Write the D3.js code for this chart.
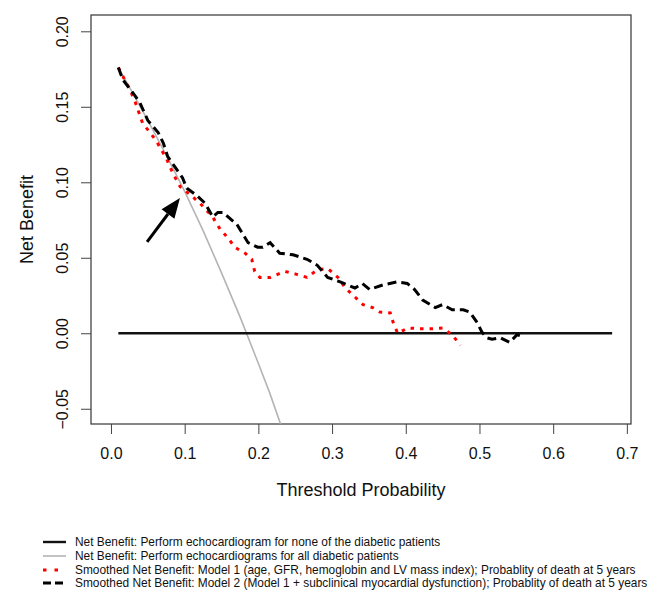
<!DOCTYPE html>
<html>
<head>
<meta charset="utf-8">
<script src="https://cdn.jsdelivr.net/npm/d3@7"></script>
<style>
  body { margin: 0; background: #fff; }
  svg text { font-family: "Liberation Sans", Arial, sans-serif; fill: #111; }
</style>
</head>
<body>
<div id="chart"></div>
<script>
// data
var xTicks = [0.0, 0.1, 0.2, 0.3, 0.4, 0.5, 0.6, 0.7];
var yTicks = [-0.05, 0.00, 0.05, 0.10, 0.15, 0.20];

var noneX = [0.01, 0.68];
var noneNB = [0, 0];

var allX = [0.01, 0.025, 0.05, 0.075, 0.10, 0.125, 0.15, 0.175, 0.20, 0.215, 0.23];
var allNB = [0.176, 0.163, 0.141, 0.118, 0.094, 0.068, 0.040, 0.011, -0.020, -0.039, -0.060];

var model1X = [0.01, 0.026, 0.033, 0.043, 0.053, 0.062, 0.076, 0.084, 0.094, 0.107, 0.121, 0.138,
  0.148, 0.159, 0.168, 0.182, 0.191, 0.195, 0.202, 0.216, 0.236, 0.252, 0.266, 0.280, 0.294,
  0.308, 0.318, 0.331, 0.342, 0.355, 0.365, 0.379, 0.383, 0.389, 0.403, 0.419, 0.436, 0.450,
  0.463, 0.474];
var model1NB = [0.176, 0.161, 0.153, 0.139, 0.133, 0.127, 0.115, 0.106, 0.097, 0.092, 0.086, 0.077,
  0.069, 0.063, 0.057, 0.053, 0.049, 0.041, 0.037, 0.037, 0.041, 0.039, 0.037, 0.042, 0.043,
  0.037, 0.030, 0.024, 0.019, 0.017, 0.014, 0.0135, 0.007, 0.000, 0.0035, 0.003, 0.003, 0.0035,
  -0.001, -0.008];

var model2X = [0.01, 0.016, 0.030, 0.039, 0.050, 0.064, 0.071, 0.077, 0.087, 0.097, 0.103, 0.117,
  0.128, 0.138, 0.145, 0.152, 0.171, 0.186, 0.199, 0.206, 0.216, 0.229, 0.247, 0.266, 0.280,
  0.294, 0.311, 0.331, 0.341, 0.351, 0.369, 0.388, 0.402, 0.412, 0.423, 0.440, 0.450, 0.463,
  0.478, 0.487, 0.497, 0.503, 0.510, 0.517, 0.528, 0.541, 0.551, 0.558];
var model2NB = [0.176, 0.168, 0.159, 0.153, 0.141, 0.133, 0.126, 0.117, 0.110, 0.103, 0.096, 0.091,
  0.086, 0.077, 0.080, 0.080, 0.072, 0.060, 0.057, 0.057, 0.060, 0.053, 0.052, 0.049, 0.045,
  0.037, 0.034, 0.030, 0.033, 0.029, 0.032, 0.034, 0.033, 0.029, 0.022, 0.017, 0.019, 0.0155,
  0.0155, 0.014, 0.007, 0.001, -0.003, -0.004, -0.003, -0.006, -0.001, -0.002];

// arrow annotation: tail -> tip
var arrowX = [0.049, 0.0936];
var arrowNB = [0.0605, 0.0896];

var legendLabels = [
  "Net Benefit: Perform echocardiogram for none of the diabetic patients",
  "Net Benefit: Perform echocardiograms for all diabetic patients",
  "Smoothed Net Benefit: Model 1 (age, GFR, hemoglobin and LV mass index); Probablity of death at 5 years",
  "Smoothed Net Benefit: Model 2 (Model 1 + subclinical myocardial dysfunction); Probablity of death at 5 years"
];

var widthSVG = 657;
var heightSVG = 592;
var box = { left: 91, right: 631, top: 15, bottom: 424 };

var svg = d3.select("#chart")
  .append("svg")
  .attr("width", widthSVG)
  .attr("height", heightSVG);

var xScale = d3.scaleLinear()
  .domain([-0.0271, 0.7056])
  .range([box.left, box.right]);

var yScale = d3.scaleLinear()
  .domain([-0.0601, 0.2108])
  .range([box.bottom, box.top]);

svg.append("defs").append("clipPath")
  .attr("id", "plotClip")
  .append("rect")
  .attr("x", box.left)
  .attr("y", box.top)
  .attr("width", box.right - box.left)
  .attr("height", box.bottom - box.top);

// axes
var xAxis = svg.append("g")
  .attr("transform", `translate(0, ${box.bottom})`)
  .call(d3.axisBottom(xScale).tickValues(xTicks).tickFormat(d3.format(".1f")).tickSize(10).tickSizeOuter(0));
xAxis.select(".domain").remove();
xAxis.selectAll("line").attr("stroke", "#444");
xAxis.selectAll("text").attr("font-size", 16).attr("dy", "1.4em");

// y axis: R style, labels rotated and centred on the ticks
var yAxis = svg.append("g")
  .attr("transform", `translate(${box.left}, 0)`)
  .call(d3.axisLeft(yScale).tickValues(yTicks).tickFormat(d3.format(".2f")).tickSize(10).tickSizeOuter(0));
yAxis.select(".domain").remove();
yAxis.selectAll("line").attr("stroke", "#444");
yAxis.selectAll(".tick text")
  .attr("font-size", 16)
  .attr("text-anchor", "middle")
  .attr("x", 0)
  .attr("y", 0)
  .attr("dy", "0.35em")
  .attr("transform", "translate(-29, 0) rotate(-90)");

// plot frame
svg.append("rect")
  .attr("x", box.left)
  .attr("y", box.top)
  .attr("width", box.right - box.left)
  .attr("height", box.bottom - box.top)
  .attr("fill", "none")
  .attr("stroke", "#444")
  .attr("stroke-width", 1.3);

var line = d3.line()
  .x(d => xScale(d[0]))
  .y(d => yScale(d[1]));

var plot = svg.append("g").attr("clip-path", "url(#plotClip)");

plot.append("path")
  .datum(d3.zip(allX, allNB))
  .attr("d", line)
  .attr("fill", "none")
  .attr("stroke", "#b4b4b4")
  .attr("stroke-width", 1.6);

plot.append("path")
  .datum(d3.zip(noneX, noneNB))
  .attr("d", line)
  .attr("fill", "none")
  .attr("stroke", "#111")
  .attr("stroke-width", 2.4);

plot.append("path")
  .datum(d3.zip(model1X, model1NB))
  .attr("d", line)
  .attr("fill", "none")
  .attr("stroke", "#ff0000")
  .attr("stroke-width", 3)
  .attr("stroke-dasharray", "3.5,6");

plot.append("path")
  .datum(d3.zip(model2X, model2NB))
  .attr("d", line)
  .attr("fill", "none")
  .attr("stroke", "#000")
  .attr("stroke-width", 3)
  .attr("stroke-dasharray", "9,5");

// arrow
var ax0 = xScale(arrowX[0]), ay0 = yScale(arrowNB[0]);
var ax1 = xScale(arrowX[1]), ay1 = yScale(arrowNB[1]);
var ang = Math.atan2(ay1 - ay0, ax1 - ax0);
var headLen = 20, headHalf = 8;
var bx = ax1 - headLen * Math.cos(ang), by = ay1 - headLen * Math.sin(ang);
svg.append("line")
  .attr("x1", ax0).attr("y1", ay0)
  .attr("x2", bx).attr("y2", by)
  .attr("stroke", "#000")
  .attr("stroke-width", 3);
svg.append("path")
  .attr("d", `M${ax1},${ay1} L${bx - headHalf * Math.sin(ang)},${by + headHalf * Math.cos(ang)} L${bx + headHalf * Math.sin(ang)},${by - headHalf * Math.cos(ang)} Z`)
  .attr("fill", "#000");

// axis titles
svg.append("text")
  .attr("x", (box.left + box.right) / 2)
  .attr("y", 496)
  .attr("text-anchor", "middle")
  .attr("font-size", 18)
  .text("Threshold Probability");

svg.append("text")
  .attr("transform", `translate(33, ${(box.top + box.bottom) / 2}) rotate(-90)`)
  .attr("text-anchor", "middle")
  .attr("font-size", 18)
  .text("Net Benefit");

// legend
var legendStyles = [
  { color: "#111", width: 2.4, dash: null },
  { color: "#b4b4b4", width: 1.6, dash: null },
  { color: "#ff0000", width: 3, dash: "3.5,8" },
  { color: "#000", width: 3, dash: "8,4" }
];
var legendY = [542, 556, 570, 583];

var legend = svg.append("g");
legendLabels.forEach(function(label, i) {
  var st = legendStyles[i];
  legend.append("line")
    .attr("x1", 43).attr("x2", 66)
    .attr("y1", legendY[i]).attr("y2", legendY[i])
    .attr("stroke", st.color)
    .attr("stroke-width", st.width)
    .attr("stroke-dasharray", st.dash);
  legend.append("text")
    .attr("class", "legText")
    .attr("x", 75)
    .attr("y", legendY[i])
    .attr("dy", "0.35em")
    .attr("font-size", 12.5)
    .text(label);
});

// squeeze the legend text horizontally like the narrow font in the original
var widest = d3.max(legend.selectAll(".legText").nodes(), n => n.getComputedTextLength());
var squeeze = 573 / widest;
legend.selectAll(".legText")
  .attr("transform", `translate(75, 0) scale(${squeeze}, 1) translate(-75, 0)`);
</script>
</body>
</html>
